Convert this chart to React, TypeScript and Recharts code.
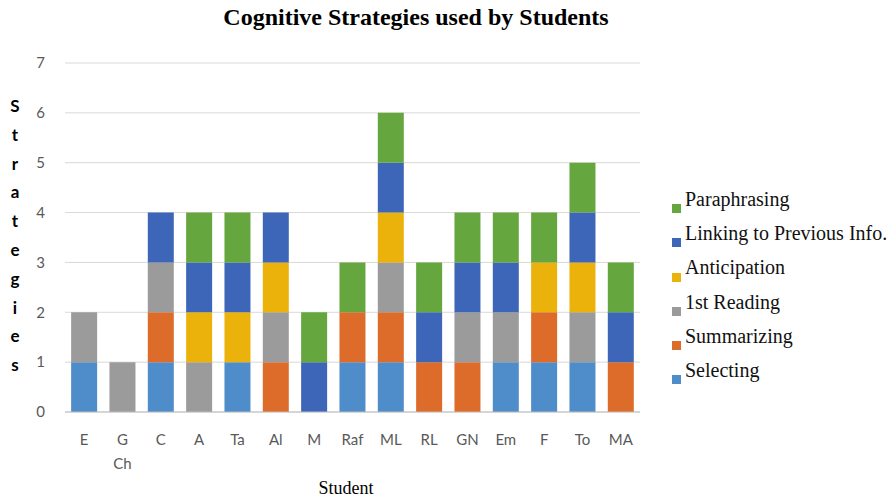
import { Bar, BarChart, CartesianGrid, XAxis, YAxis } from 'recharts'

const students = ['E', 'G Ch', 'C', 'A', 'Ta', 'Al', 'M', 'Raf', 'ML', 'RL', 'GN', 'Em', 'F', 'To', 'MA']

// one value per student, bottom series first
const selecting = [1, 0, 1, 0, 1, 0, 0, 1, 1, 0, 0, 1, 1, 1, 0]
const summarizing = [0, 0, 1, 0, 0, 1, 0, 1, 1, 1, 1, 0, 1, 0, 1]
const firstReading = [1, 1, 1, 1, 0, 1, 0, 0, 1, 0, 1, 1, 0, 1, 0]
const anticipation = [0, 0, 0, 1, 1, 1, 0, 0, 1, 0, 0, 0, 1, 1, 0]
const linking = [0, 0, 1, 1, 1, 1, 1, 0, 1, 1, 1, 1, 0, 1, 1]
const paraphrasing = [0, 0, 0, 1, 1, 0, 1, 1, 1, 1, 1, 1, 1, 1, 1]

const yTicks = [0, 1, 2, 3, 4, 5, 6, 7]

const series = [
  { key: 'selecting', name: 'Selecting', color: '#4f8cca', values: selecting },
  { key: 'summarizing', name: 'Summarizing', color: '#dd6b2a', values: summarizing },
  { key: 'firstReading', name: '1st Reading', color: '#9b9b9b', values: firstReading },
  { key: 'anticipation', name: 'Anticipation', color: '#ebb20c', values: anticipation },
  { key: 'linking', name: 'Linking to Previous Info.', color: '#3d66b8', values: linking },
  { key: 'paraphrasing', name: 'Paraphrasing', color: '#66a63f', values: paraphrasing },
]

const data = students.map((s, i) => {
  const row: Record<string, string | number> = { student: s }
  series.forEach((se) => {
    row[se.key] = se.values[i]
  })
  return row
})

const tickFont = { fontFamily: 'Lato, sans-serif', fontSize: 15, fill: '#595959' }

function StudentTick(props: any) {
  const { x, y, payload } = props
  const parts = String(payload.value).split(' ')
  return (
    <text x={x} y={y + 25} textAnchor="middle" {...tickFont}>
      {parts.map((p, i) => (
        <tspan key={i} x={x} dy={i === 0 ? 0 : 24}>
          {p}
        </tspan>
      ))}
    </text>
  )
}

const yLabel = 'Strategies'

export default function App() {
  return (
    <div style={{ position: 'absolute', left: 0, top: 0, width: 890, height: 499, background: '#fff' }}>
      <div
        style={{
          position: 'absolute',
          top: 4,
          left: 0,
          width: 832,
          textAlign: 'center',
          fontFamily: '"Liberation Serif", serif',
          fontWeight: 'bold',
          fontSize: 24,
          color: '#000',
        }}
      >
        Cognitive Strategies used by Students
      </div>
      <div
        style={{
          position: 'absolute',
          left: 5,
          top: 92,
          width: 20,
          textAlign: 'center',
          fontFamily: 'Lato, sans-serif',
          fontWeight: 'bold',
          fontSize: 17,
          lineHeight: '28.8px',
          color: '#000',
        }}
      >
        {yLabel.split('').map((c, i) => (
          <div key={i}>{c}</div>
        ))}
      </div>
      <BarChart
        width={890}
        height={499}
        data={data}
        margin={{ top: 63, right: 250, bottom: 57, left: 20 }}
        barCategoryGap="16%"
      >
        <CartesianGrid vertical={false} stroke="#d9d9d9" />
        <XAxis
          dataKey="student"
          interval={0}
          height={30}
          tick={<StudentTick />}
          tickLine={false}
          axisLine={{ stroke: '#bfbfbf' }}
        />
        <YAxis
          domain={[0, 7]}
          ticks={yTicks}
          width={45}
          axisLine={false}
          tickLine={false}
          tick={tickFont}
          tickMargin={14}
        />
        {series.map((se) => (
          <Bar key={se.key} dataKey={se.key} stackId="a" fill={se.color} isAnimationActive={false} />
        ))}
      </BarChart>
      <div
        style={{
          position: 'absolute',
          left: 346,
          top: 478,
          transform: 'translateX(-50%)',
          fontFamily: '"Liberation Serif", serif',
          fontSize: 18,
          color: '#000',
        }}
      >
        Student
      </div>
      <div style={{ position: 'absolute', left: 672, top: 185 }}>
        {[...series].reverse().map((se) => (
          <div
            key={se.key}
            style={{
              display: 'flex',
              alignItems: 'flex-end',
              height: 34.2,
              fontFamily: '"Liberation Serif", serif',
              fontSize: 20,
              color: '#111',
            }}
          >
            <span
              style={{ width: 9, height: 9, background: se.color, marginRight: 4, marginBottom: 6, display: 'inline-block' }}
            />
            <span style={{ lineHeight: '28px', alignSelf: 'flex-start' }}>{se.name}</span>
          </div>
        ))}
      </div>
    </div>
  )
}
